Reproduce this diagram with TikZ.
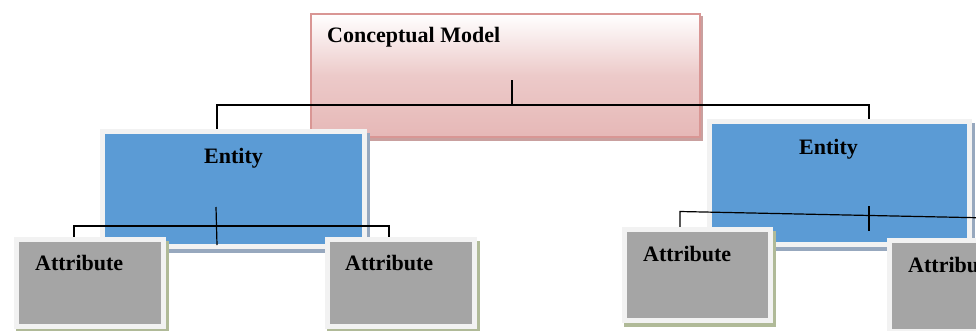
\documentclass[tikz,border=0pt]{standalone}
\usepackage{fontspec}
\setmainfont{Liberation Serif}
\usetikzlibrary{shadows}

\definecolor{cmpink}{HTML}{E6B8B7}
\definecolor{cmedge}{HTML}{D99694}
\definecolor{cmshadow}{HTML}{C9A09F}
\definecolor{entblue}{HTML}{5B9BD5}
\definecolor{framegray}{HTML}{F2F2F2}
\definecolor{entshadow}{HTML}{97A8BE}
\definecolor{attgray}{HTML}{A5A5A5}
\definecolor{attshadow}{HTML}{B0BA98}

\begin{document}
\begin{tikzpicture}[x=1pt,y=-1pt,
  box/.style={rectangle, inner sep=0pt},
  model/.style={box, draw=cmedge, line width=1.5pt, outer sep=0.75pt,
    top color=white, bottom color=cmpink, middle color=cmpink!75!white,
    drop shadow={shadow xshift=2.5pt, shadow yshift=-3pt, fill=cmshadow,
      draw=cmshadow, line width=1.5pt, opacity=1}},
  entity/.style={box, draw=framegray, line width=5.5pt, outer sep=2.75pt,
    fill=entblue,
    drop shadow={shadow xshift=3pt, shadow yshift=-4pt, fill=entshadow,
      draw=entshadow, line width=5.5pt, opacity=1}},
  attribute/.style={box, draw=framegray, line width=5.5pt, outer sep=2.75pt,
    fill=attgray,
    drop shadow={shadow xshift=2.5pt, shadow yshift=-4pt, fill=attshadow,
      draw=attshadow, line width=5.5pt, opacity=1}},
  title/.style={inner sep=0pt, font=\fontsize{22}{26}\selectfont\bfseries},
  wire/.style={draw=black, line width=1.2pt}
]
\useasboundingbox (0,0) rectangle (976,330);
\clip (0,0) rectangle (976,330);

% boxes
\node[model, minimum width=389pt, minimum height=123pt] (cm) at (505.5,75.5) {};
\node[entity, minimum width=262pt, minimum height=115pt] (e1) at (233.5,189) {};
\node[entity, minimum width=260pt, minimum height=123pt] (e2) at (839.5,183) {};
\node[attribute, minimum width=147pt, minimum height=87pt] (a1) at (90,283) {};
\node[attribute, minimum width=147pt, minimum height=87pt] (a2) at (401,283) {};
\node[attribute, minimum width=146pt, minimum height=91pt] (a3) at (697.5,275) {};
\node[attribute, minimum width=146pt, minimum height=91pt] (a4) at (962.5,286) {};

% labels
\node[title, anchor=base west] (cmtext) at (327,42.5) {Conceptual Model};
\node[title, anchor=base] (e1text) at (233.5,163) {Entity};
\node[title, anchor=base] (e2text) at (828.5,154) {Entity};
\node[title, anchor=base west] (a1text) at (35,270) {Attribute};
\node[title, anchor=base west] (a2text) at (345,270) {Attribute};
\node[title, anchor=base west] (a3text) at (643,261.5) {Attribute};
\node[title, anchor=base west] (a4text) at (908,272.5) {Attribute};

% model to entities
\coordinate (cmstem) at (512,80);
\coordinate (bus) at (512,105);
\coordinate (busL) at (217,105);
\coordinate (busR) at (869,105);
\draw[wire] (cmstem) -- (bus);
\draw[wire] (e1.north -| busL) -- (busL) -- (busR) -- (busR |- e2.north);

% left entity to its attributes
\coordinate (e1stemA) at (216,207);
\coordinate (e1stemB) at (217,245);
\coordinate (e1L) at (74,226);
\coordinate (e1R) at (389,226);
\draw[wire] (e1stemA) -- (e1stemB);
\draw[wire] (a1.north -| e1L) -- (e1L) -- (e1R) -- (e1R |- a2.north);

% right entity to its attributes
\coordinate (e2stemA) at (869,206);
\coordinate (e2stemB) at (869,231);
\coordinate (e2L) at (680,211.5);
\coordinate (e2R) at (990,218);
\draw[wire] (e2stemA) -- (e2stemB);
\draw[wire] (a3.north -| e2L) -- (e2L) -- (e2R);
\end{tikzpicture}
\end{document}
